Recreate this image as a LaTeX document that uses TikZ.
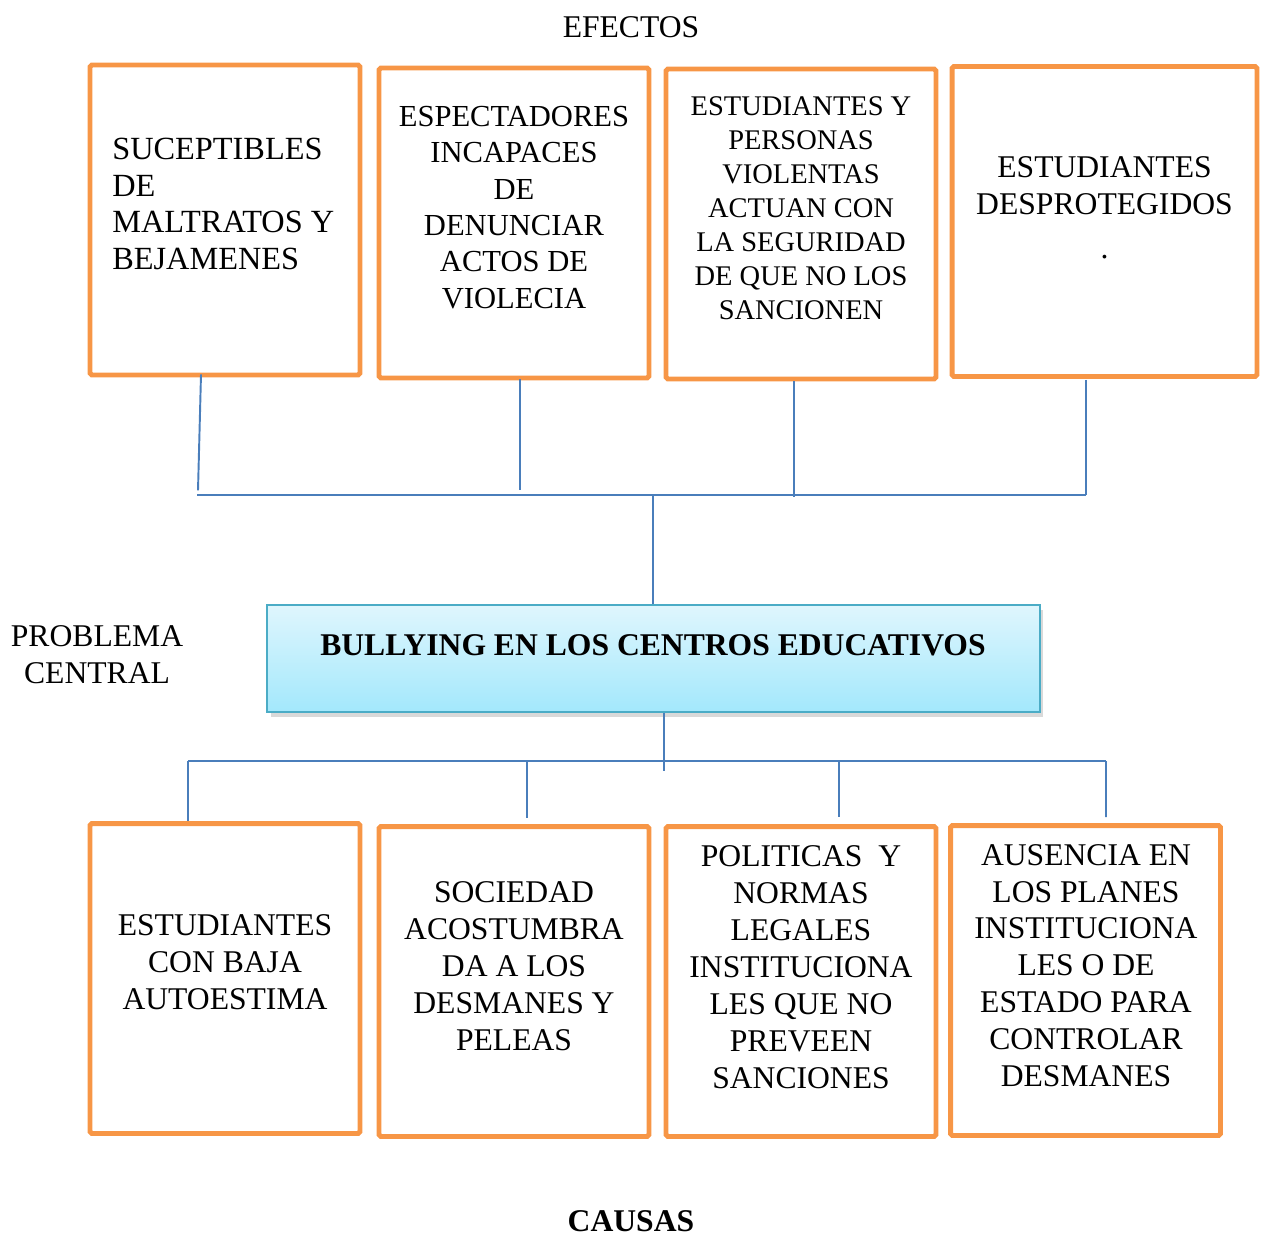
\documentclass[tikz,border=0pt]{standalone}
\usepackage{fontspec}
\setmainfont{Liberation Serif}
\usetikzlibrary{calc,shadows}
\definecolor{boxorange}{HTML}{F79646}
\definecolor{linkblue}{HTML}{4A7EBB}
\definecolor{coreedge}{HTML}{4BACC6}
\definecolor{coretop}{HTML}{DFF6FD}
\definecolor{corebottom}{HTML}{A3E8FC}
\tikzset{
    cajon/.style={draw=boxorange, line width=2.8pt, rounded corners=1pt,
        minimum width=5.4cm, minimum height=6.2cm, inner sep=0pt},
    texto/.style={align=center, inner sep=0pt,
        font=\fontsize{18}{21}\selectfont},
    enlace/.style={draw=linkblue, line width=1.1pt}
}
\begin{document}
\begin{tikzpicture}[x=0.02cm, y=-0.02cm]
    \useasboundingbox (0,0) rectangle (1263,1237);
    \node[texto] (efectos) at (631,27) {EFECTOS};
    \node[cajon] (e1) at (225,220) {};
    \node[cajon] (e2) at (514,223) {};
    \node[cajon] (e3) at (801,224) {};
    \node[cajon, minimum width=6.1cm] (e4) at (1104.5,221.5) {};
    \node[texto, align=left, anchor=west, font=\fontsize{18.4}{21}\selectfont] (e1txt) at (112,204)
        {SUCEPTIBLES\\DE\\MALTRATOS Y\\BEJAMENES};
    \node[texto, font=\fontsize{17.4}{20.7}\selectfont] (e2txt) at (514,207.5)
        {ESPECTADORES\\INCAPACES\\DE\\DENUNCIAR\\ACTOS DE\\VIOLECIA};
    \node[texto, font=\fontsize{16.2}{19.3}\selectfont] (e3txt) at (801,208)
        {ESTUDIANTES Y\\PERSONAS\\VIOLENTAS\\ACTUAN CON\\LA SEGURIDAD\\DE QUE NO LOS\\SANCIONEN};
    \node[texto] (e4txt) at (1104.5,208)
        {ESTUDIANTES\\DESPROTEGIDOS\\[4pt].};
    \node[draw=coreedge, line width=1pt, top color=coretop, bottom color=corebottom,
        drop shadow={shadow xshift=2pt, shadow yshift=-3pt, opacity=0.3},
        minimum width=15.46cm, minimum height=2.14cm, inner sep=0pt] (core) at (653.5,658.5) {};
    \node[texto, font=\bfseries\fontsize{18}{21}\selectfont] (coretxt) at (653,645)
        {BULLYING EN LOS CENTROS EDUCATIVOS};
    \node[texto] (problema) at (97,655) {PROBLEMA\\CENTRAL};
    \node[cajon] (c1) at (225,978.5) {};
    \node[cajon] (c2) at (514,981.5) {};
    \node[cajon] (c3) at (801,981.5) {};
    \node[cajon] (c4) at (1085.5,980.5) {};
    \node[texto] (c1txt) at (225,962) {ESTUDIANTES\\CON BAJA\\AUTOESTIMA};
    \node[texto] (c2txt) at (514,966) {SOCIEDAD\\ACOSTUMBRA\\DA A LOS\\DESMANES Y\\PELEAS};
    \node[texto] (c3txt) at (801,967)
        {POLITICAS\ \ Y\\NORMAS\\LEGALES\\INSTITUCIONA\\LES QUE NO\\PREVEEN\\SANCIONES};
    \node[texto] (c4txt) at (1086,965.5)
        {AUSENCIA EN\\LOS PLANES\\INSTITUCIONA\\LES O DE\\ESTADO PARA\\CONTROLAR\\DESMANES};
    \node[texto, font=\bfseries\fontsize{18}{21}\selectfont] (causas) at (631,1221) {CAUSAS};
    \coordinate (barsupi) at (197,495);
    \coordinate (barsupd) at (1086,495);
    \coordinate (barinfi) at (188,761);
    \coordinate (barinfd) at (1106,761);
    \coordinate (cima) at ($(core.north)+(-0.5,0)$);
    \coordinate (pie2) at ($(c2.north)+(13,-6)$);
    \coordinate (pie3) at ($(c3.north)+(38,-7)$);
    \draw[enlace] ($(e1.south)+(-24,-3)$) -- ($(e1.south)+(-27,113)$);
    \draw[enlace] ($(e2.south)+(6,-1)$) -- ($(e2.south)+(6,110)$);
    \draw[enlace] ($(e3.south)+(-7,0)$) -- ($(e3.south)+(-7,116)$);
    \draw[enlace] ($(e4.south)+(-18.5,1)$) -- (barsupd);
    \draw[enlace] (barsupi) -- (barsupd);
    \draw[enlace] (cima) -- (cima |- barsupi);
    \draw[enlace] ($(core.south)+(10.5,0)$) -- ($(core.south)+(10.5,58)$);
    \draw[enlace] (barinfi) -- (barinfd);
    \draw[enlace] (barinfi) -- (barinfi |- c1.north);
    \draw[enlace] (pie2 |- barinfi) -- (pie2);
    \draw[enlace] (pie3 |- barinfi) -- (pie3);
    \draw[enlace] (barinfd) -- ($(c4.north)+(20.5,-6)$);
\end{tikzpicture}
\end{document}
